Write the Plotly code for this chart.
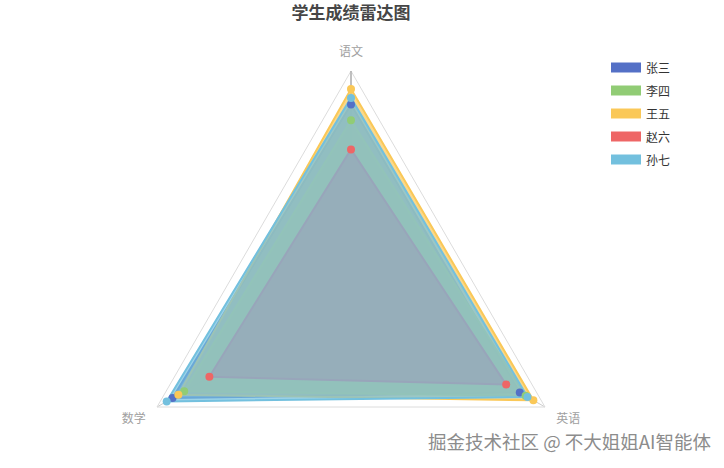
import plotly.graph_objects as go

indicators = ["语文", "数学", "英语"]
students = ["张三", "李四", "王五", "赵六", "孙七"]
zhangsan = [85, 92, 87]
lisi = [78, 86, 90]
wangwu = [92, 89, 94]
zhaoliu = [65, 73, 80]
sunqi = [88, 95, 91]
max_score = 100
colors = ["#5470c6", "#91cc75", "#fac858", "#ee6666", "#73c0de"]
fills = ["rgba(84,112,198,0.7)", "rgba(145,204,117,0.7)", "rgba(250,200,88,0.7)",
         "rgba(238,102,102,0.7)", "rgba(115,192,222,0.7)"]

series = [zhangsan, lisi, wangwu, zhaoliu, sunqi]
FONT = "Noto Sans CJK SC"

W, H = 724, 519
L, T = 127, 71
S = 448

fig = go.Figure()
# areas and outlines
for i, (name, vals) in enumerate(zip(students, series)):
    fig.add_trace(go.Scatterpolar(
        r=vals + vals[:1],
        theta=indicators + indicators[:1],
        name=name,
        legendgroup=name,
        showlegend=False,
        mode="lines",
        fill="toself",
        fillcolor=fills[i],
        line=dict(color=colors[i], width=2),
    ))
# symbols drawn above every area
for i, (name, vals) in enumerate(zip(students, series)):
    fig.add_trace(go.Scatterpolar(
        r=vals,
        theta=indicators,
        name=name,
        legendgroup=name,
        showlegend=False,
        mode="markers",
        marker=dict(color=colors[i], size=8),
    ))
# legend swatches
for i, name in enumerate(students):
    fig.add_trace(go.Scatterpolar(
        r=[None], theta=[None],
        name=name,
        legendgroup=name,
        mode="lines",
        fill="toself",
        fillcolor=colors[i],
        line=dict(color=colors[i], width=8),
    ))

fig.update_layout(
    width=W, height=H,
    margin=dict(l=L, t=T, r=W - L - S, b=H - T - S, pad=0),
    paper_bgcolor="white",
    font=dict(family=FONT, color="#333"),
    title=dict(text="<b>学生成绩雷达图</b>", x=351 / W, xanchor="center",
               y=1 - 13 / H, yanchor="middle", xref="container", yref="container",
               font=dict(size=17, color="#464646", family=FONT)),
    polar=dict(
        domain=dict(x=[0, 1], y=[0, 1]),
        gridshape="linear",
        bgcolor="rgba(0,0,0,0)",
        radialaxis=dict(range=[0, max_score], showticklabels=False, ticks="",
                        showline=True, linecolor="#999", linewidth=1, angle=90,
                        gridcolor="#e6e6e6", dtick=20, layer="below traces"),
        angularaxis=dict(direction="counterclockwise", rotation=90,
                         showline=True, linecolor="#dcdcdc", gridcolor="#cccccc",
                         ticks="outside", ticklen=10, tickcolor="rgba(0,0,0,0)",
                         layer="below traces",
                         tickfont=dict(size=12, color="#a0a0a0", family=FONT)),
    ),
    legend=dict(x=(606 - L) / S, y=(H - 54) / S, xanchor="left", yanchor="top",
                font=dict(size=12, color="#333", family=FONT), tracegroupgap=4,
                bgcolor="rgba(0,0,0,0)"),
    annotations=[dict(text="掘金技术社区 @ 不大姐姐AI智能体", xref="paper", yref="paper",
                      x=(713 - L) / S, y=(H - 441 - (H - T - S)) / S, xanchor="right", yanchor="middle",
                      showarrow=False, font=dict(size=18.5, color="#8c8c8c", family=FONT))],
)

fig.write_html("out.html", config={"displayModeBar": False},
               post_script="document.documentElement.style.overflow='hidden';document.body.style.overflow='hidden';document.body.style.margin='0';")
